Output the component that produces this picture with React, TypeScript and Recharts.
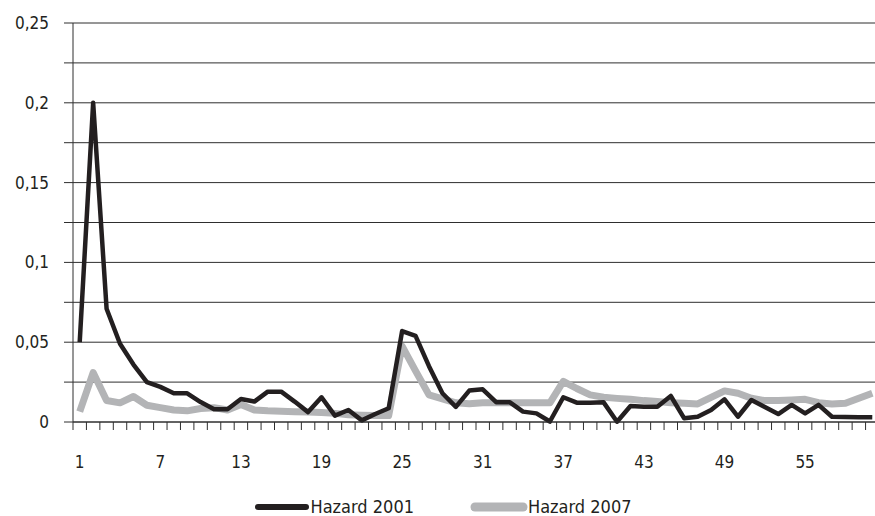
import { LineChart, Line, XAxis, YAxis, CartesianGrid, Legend } from 'recharts';

// periods 1..60 (months since start)
const periods = [
  1, 2, 3, 4, 5, 6, 7, 8, 9, 10, 11, 12, 13, 14, 15, 16, 17, 18, 19, 20,
  21, 22, 23, 24, 25, 26, 27, 28, 29, 30, 31, 32, 33, 34, 35, 36, 37, 38, 39, 40,
  41, 42, 43, 44, 45, 46, 47, 48, 49, 50, 51, 52, 53, 54, 55, 56, 57, 58, 59, 60,
];

const hazard2001 = [
  0.05, 0.2, 0.071, 0.049, 0.036, 0.025, 0.022, 0.018, 0.018, 0.0125,
  0.008, 0.008, 0.0144, 0.0128, 0.019, 0.019, 0.0128, 0.0062, 0.0155, 0.004,
  0.0075, 0.001, 0.005, 0.0086, 0.057, 0.054, 0.035, 0.018, 0.0095, 0.0197,
  0.0205, 0.0124, 0.0124, 0.0065, 0.0054, 0.0003, 0.0155, 0.0121, 0.0121, 0.0123,
  0.0002, 0.01, 0.0096, 0.0096, 0.0163, 0.0023, 0.0033, 0.0075, 0.0142, 0.0033,
  0.0138, 0.0094, 0.005, 0.0107, 0.0054, 0.0107, 0.0033, 0.0032, 0.003, 0.0029,
];

const hazard2007 = [
  0.0065, 0.031, 0.0135, 0.012, 0.016, 0.0105, 0.009, 0.0075, 0.007, 0.0085,
  0.009, 0.0075, 0.011, 0.0075, 0.007, 0.0067, 0.0065, 0.0063, 0.006, 0.0054,
  0.0045, 0.0042, 0.004, 0.004, 0.0475, 0.032, 0.017, 0.0145, 0.012, 0.0115,
  0.012, 0.012, 0.012, 0.012, 0.012, 0.012, 0.0255, 0.021, 0.017, 0.0155,
  0.0148, 0.0142, 0.0134, 0.0128, 0.0121, 0.0117, 0.0113, 0.0155, 0.0195, 0.018,
  0.0149, 0.0134, 0.0134, 0.0138, 0.0142, 0.0121, 0.0113, 0.0117, 0.0149, 0.018,
];

const xLabels = [1, 7, 13, 19, 25, 31, 37, 43, 49, 55];
const yTicks = [0, 0.025, 0.05, 0.075, 0.1, 0.125, 0.15, 0.175, 0.2, 0.225, 0.25];
const yLabels = [0, 0.05, 0.1, 0.15, 0.2, 0.25];

const INK = '#231f20';
const GREY = '#b3b4b6';
const RULE = '#2e2e2e';
const FONT = "'DejaVu Sans Condensed', 'Liberation Sans', sans-serif";

const data = periods.map((p, i) => ({
  period: p,
  h2001: hazard2001[i],
  h2007: hazard2007[i],
}));

// category boundaries get the small tick marks, label positions get text
const boundaries = [0, ...periods].map((p) => p + 0.5);
const xTicks = [...boundaries, ...xLabels].sort((a, b) => a - b);

function XTick({ x, y, payload }: any) {
  const v = payload.value;
  if (v % 1 !== 0) {
    return <line x1={x} x2={x} y1={y} y2={y + 8} stroke={RULE} strokeWidth={1} />;
  }
  return (
    <text x={x} y={y + 46} textAnchor="middle" fontSize={17} fill={INK} fontFamily={FONT}>
      {v}
    </text>
  );
}

function fmtY(v: number) {
  if (!yLabels.some((l) => Math.abs(l - v) < 1e-9)) return '';
  return String(+v.toFixed(2)).replace('.', ',');
}

function LegendContent() {
  const item = (label: string, color: string, w: number) => (
    <div style={{ display: 'flex', alignItems: 'center', height: 20 }}>
      <svg width={58} height={12}>
        <line x1={5} x2={53} y1={6} y2={6} stroke={color} strokeWidth={w} strokeLinecap="round" />
      </svg>
      <span style={{ fontSize: 18, lineHeight: '20px', color: INK, fontFamily: FONT }}>{label}</span>
    </div>
  );
  return (
    <div style={{ display: 'flex', justifyContent: 'center', gap: 56, width: 884, height: 20 }}>
      {item('Hazard 2001', INK, 6)}
      {item('Hazard 2007', GREY, 9)}
    </div>
  );
}

export default function App() {
  return (
    <div
      style={{
        position: 'fixed',
        top: 0,
        left: 0,
        width: 875,
        height: 516,
        overflow: 'hidden',
        background: '#fff',
      }}
    >
      <LineChart
        width={890}
        height={516}
        data={data}
        margin={{ top: 23, right: 11, bottom: 0, left: 0 }}
      >
        <CartesianGrid vertical={false} stroke={RULE} strokeWidth={1} />
        <XAxis
          type="number"
          dataKey="period"
          domain={[0.5, 60.5]}
          ticks={xTicks}
          interval={0}
          tick={<XTick />}
          tickLine={false}
          tickSize={0}
          tickMargin={0}
          height={74}
          stroke={RULE}
        />
        <YAxis
          domain={[0, 0.25]}
          ticks={yTicks}
          interval={0}
          tickFormatter={fmtY}
          width={73}
          tickSize={9}
          tickMargin={15}
          stroke={RULE}
          tick={{ fontSize: 17, fill: INK, fontFamily: FONT }}
        />
        <Legend
          verticalAlign="bottom"
          content={<LegendContent />}
          wrapperStyle={{ left: 0, top: 497, width: 884, height: 20 }}
        />
        <Line
          type="linear"
          dataKey="h2007"
          name="Hazard 2007"
          stroke={GREY}
          strokeWidth={7}
          dot={false}
          strokeLinejoin="round"
          isAnimationActive={false}
        />
        <Line
          type="linear"
          dataKey="h2001"
          name="Hazard 2001"
          stroke={INK}
          strokeWidth={4.5}
          dot={false}
          strokeLinejoin="round"
          isAnimationActive={false}
        />
      </LineChart>
    </div>
  );
}
